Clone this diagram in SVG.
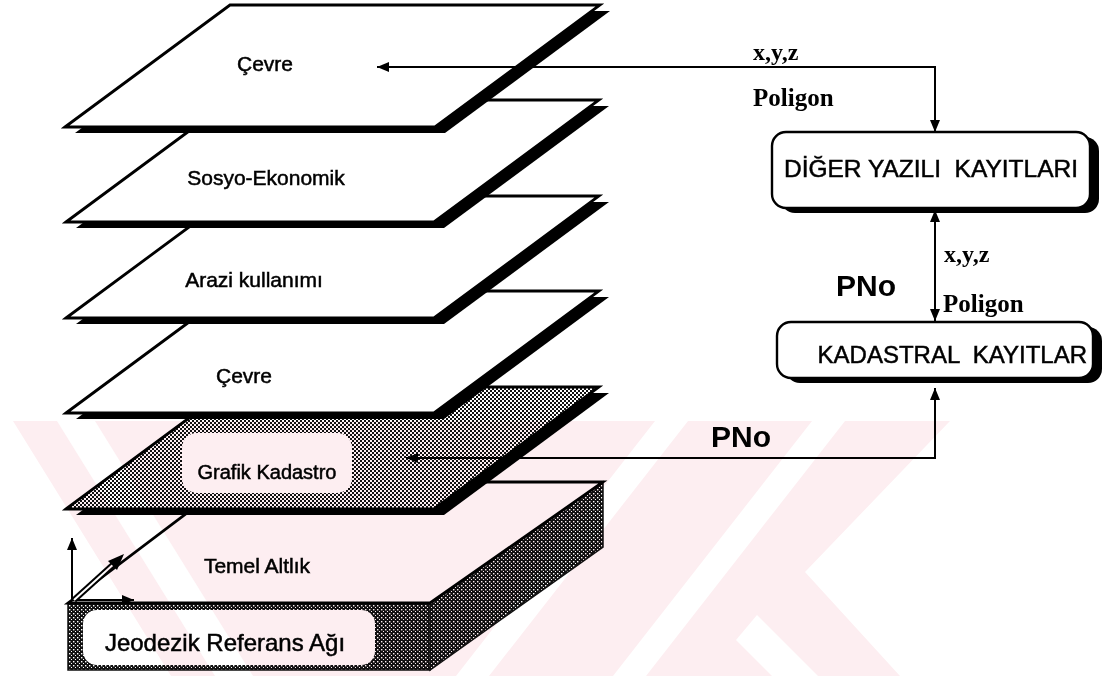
<svg xmlns="http://www.w3.org/2000/svg" width="1110" height="676" viewBox="0 0 1110 676">
<defs>
<style>
.lbl{font-family:"Liberation Sans",Arial,sans-serif;font-size:21px;fill:#000;stroke:#000;stroke-width:0.5;text-anchor:middle}
.box{font-family:"Liberation Sans",Arial,sans-serif;font-size:24px;fill:#000;stroke:#000;stroke-width:0.5}
.pno{font-family:"Liberation Sans",Arial,sans-serif;font-size:30px;font-weight:bold;fill:#000}
.ser{font-family:"Liberation Serif","Times New Roman",serif;font-size:24px;font-weight:bold;fill:#000}
.layer{fill:#fff;stroke:#000;stroke-width:2.8;stroke-linejoin:miter}
.shadow{fill:#000}
.con{fill:none;stroke:#000;stroke-width:2}
.rbox{fill:#fff;stroke:#000;stroke-width:2.4}
</style>
<pattern id="gray" width="4" height="4" patternUnits="userSpaceOnUse">
<rect width="4" height="4" fill="#fff"/>
<rect width="2" height="2" fill="#111"/>
<rect x="2" y="2" width="2" height="2" fill="#111"/>
</pattern>
<pattern id="dark" width="4" height="4" patternUnits="userSpaceOnUse">
<rect width="4" height="4" fill="#111"/>
<rect x="1" y="1" width="1.4" height="1.4" fill="#fff"/>
<rect x="3" y="3" width="1.4" height="1.4" fill="#fff"/>
</pattern>
<marker id="ah" viewBox="0 0 12 10" refX="12" refY="5" markerWidth="12" markerHeight="10" markerUnits="userSpaceOnUse" orient="auto-start-reverse">
<path d="M0,0 L12,5 L0,10 z" fill="#000"/>
</marker>
</defs>
<rect width="1110" height="676" fill="#fff"/>

<g id="slab">
<polygon points="430,603 603,482 603,547 430,670" fill="url(#dark)" stroke="#111" stroke-width="1.5"/>
<rect x="68" y="603" width="362" height="67" fill="url(#dark)" stroke="#111" stroke-width="1.5"/>
<polygon class="layer" points="68,603 228,482 603,482 430,603"/>
<rect x="83" y="610" width="292" height="55" rx="14" fill="#fff"/>
<text class="lbl" x="257" y="573">Temel Altlık</text>
<text class="lbl" x="225" y="651" style="font-size:24px">Jeodezik Referans Ağı</text>
</g>

<g id="axes">
<path class="con" d="M72,600 V538" marker-end="url(#ah)"/>
<path class="con" d="M72,600 H134" marker-end="url(#ah)"/>
<path d="M74,600 L116,562" stroke="#000" stroke-width="6" fill="none"/>
<path d="M74,600 L116,562" stroke="#fff" stroke-width="2" fill="none"/>
<polygon points="124,554 108,561 117,570" fill="#000"/>
</g>

<g id="grafik">
<polygon class="shadow" points="76,515 241,393 609,393 444,515"/>
<polygon class="layer" points="66,509 231,387 599,387 434,509" style="fill:url(#gray)"/>
<rect x="182" y="433" width="170" height="60" rx="15" fill="#fff"/>
<text class="lbl" x="267" y="479" style="font-size:20px">Grafik Kadastro</text>
</g>

<g id="cevre2">
<polygon class="shadow" points="76,419 241,297 609,297 444,419"/>
<polygon class="layer" points="66,413 231,291 599,291 434,413"/>
<text class="lbl" x="244" y="383">Çevre</text>
</g>

<g id="arazi">
<polygon class="shadow" points="76,324 241,202 609,202 444,324"/>
<polygon class="layer" points="66,318 231,196 599,196 434,318"/>
<text class="lbl" x="254" y="287">Arazi kullanımı</text>
</g>

<g id="sosyo">
<polygon class="shadow" points="76,228 241,106 609,106 444,228"/>
<polygon class="layer" points="66,222 231,100 599,100 434,222"/>
<text class="lbl" x="266" y="185">Sosyo-Ekonomik</text>
</g>

<g id="cevre1">
<polygon class="shadow" points="75,133 240,11 610,11 445,133"/>
<polygon class="layer" points="65,127 230,5 600,5 435,127"/>
<text class="lbl" x="265" y="71">Çevre</text>
</g>

<g id="diger">
<rect x="781" y="137" width="318" height="76" rx="14" fill="#000"/>
<rect class="rbox" x="772" y="132" width="318" height="76" rx="14"/>
<text class="box" x="931" y="177" text-anchor="middle" xml:space="preserve" style="font-size:24.5px">DİĞER YAZILI  KAYITLARI</text>
</g>

<g id="kadastral">
<rect x="786" y="327" width="316" height="56" rx="14" fill="#000"/>
<rect class="rbox" x="777" y="322" width="316" height="56" rx="14"/>
<text class="box" x="1087" y="363" text-anchor="end" xml:space="preserve">KADASTRAL  KAYITLAR</text>
</g>

<g id="connectors">
<path class="con" d="M377,67 H935 V132" marker-start="url(#ah)" marker-end="url(#ah)"/>
<path class="con" d="M935,210 V321" marker-start="url(#ah)" marker-end="url(#ah)"/>
<path class="con" d="M406,458 H935 V388" marker-start="url(#ah)" marker-end="url(#ah)"/>
<text class="ser" x="753" y="60">x,y,z</text>
<text class="ser" x="753" y="106" style="font-size:25px">Poligon</text>
<text class="ser" x="944" y="262">x,y,z</text>
<text class="ser" x="943" y="312" style="font-size:25px">Poligon</text>
<text class="pno" x="836" y="296">PNo</text>
<text class="pno" x="711" y="447">PNo</text>
</g>

<g id="watermark" style="mix-blend-mode:multiply">
<polygon points="13,421 950,421 805,572 900,676 171,676" fill="#fdeef1"/>
<polygon points="57,421 95,421 253,676 215,676" fill="#fff"/>
<polygon points="655,421 688,421 489,676 456,676" fill="#fff"/>
<polygon points="812,421 845,421 646,676 613,676" fill="#fff"/>
<polygon points="736,640 757,615 818,676 772,676" fill="#fff"/>
</g>
</svg>
